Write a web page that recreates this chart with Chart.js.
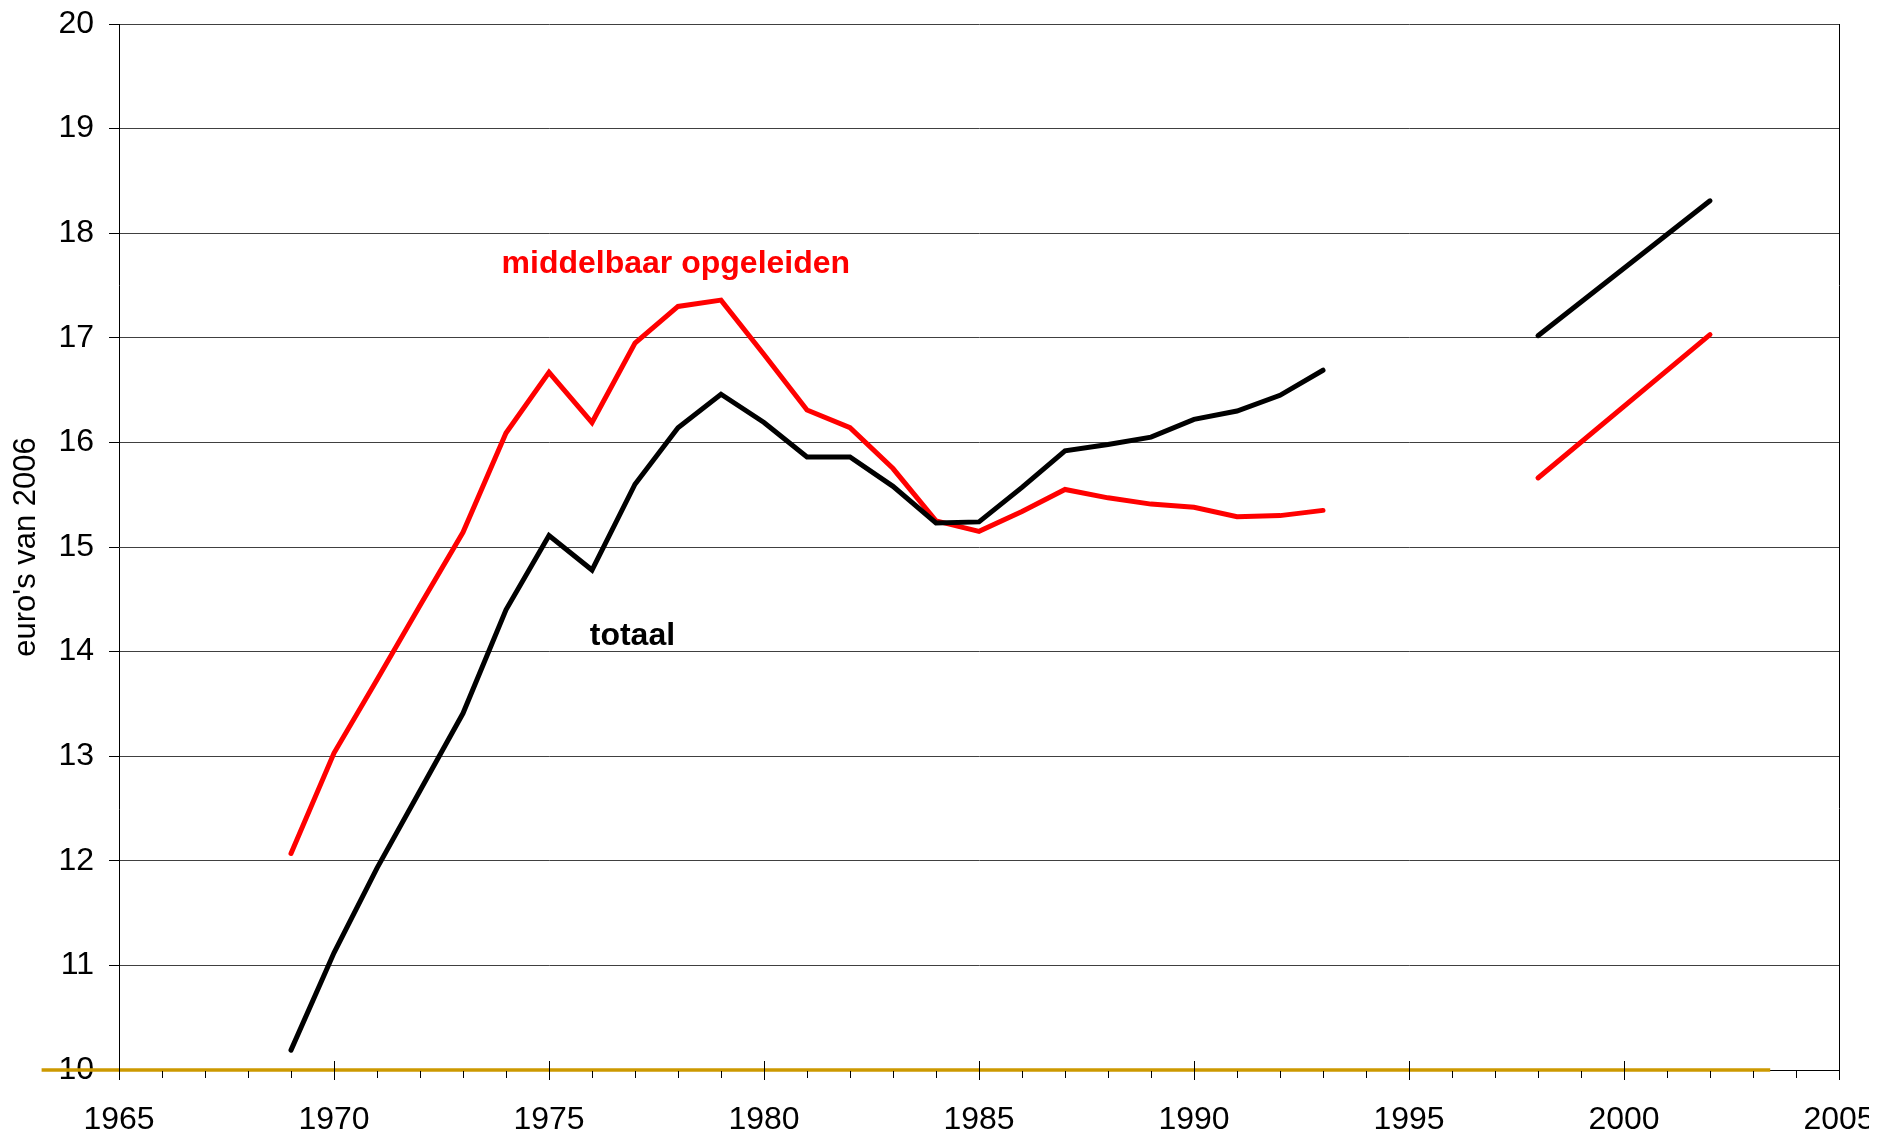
<!DOCTYPE html>
<html>
<head>
<meta charset="utf-8">
<title>euro's van 2006</title>
<script src="https://cdn.jsdelivr.net/npm/chart.js@4.4.0/dist/chart.umd.min.js"></script>
<style>
  html, body { margin: 0; padding: 0; background: #fff; }
  .canva { width: 1869px; height: 1134px; position: relative; }
</style>
</head>
<body>
<div class="canva"><canvas id="grafiek"></canvas></div>
<script>
// jaren, 1995 staat er alleen in om de lijn te onderbreken
const jaren = [1969, 1970, 1971, 1972, 1973, 1974, 1975, 1976, 1977, 1978, 1979, 1980,
  1981, 1982, 1983, 1984, 1985, 1986, 1987, 1988, 1989, 1990, 1991, 1992, 1993,
  1995, 1998, 2002];
const totaal = [10.19, 11.12, 11.93, 12.67, 13.41, 14.40, 15.11, 14.78, 15.60, 16.14, 16.46, 16.19,
  15.86, 15.86, 15.58, 15.23, 15.24, 15.57, 15.92, 15.98, 16.05, 16.22, 16.30, 16.45, 16.69,
  null, 17.02, 18.31];
const middelbaar = [12.07, 13.03, 13.73, 14.44, 15.14, 16.09, 16.67, 16.19, 16.95, 17.30, 17.36, 16.84,
  16.31, 16.14, 15.75, 15.25, 15.15, 15.34, 15.55, 15.47, 15.41, 15.38, 15.29, 15.30, 15.35,
  null, 15.66, 17.03];
// gele basislijn onderaan
const basisJaren = [1963.2, 2003.4];
const basisWaarden = [10, 10];

const yTicks = [10, 11, 12, 13, 14, 15, 16, 17, 18, 19, 20];
const xTicks = [1965, 1970, 1975, 1980, 1985, 1990, 1995, 2000, 2005];

const labels = [
  { tekst: 'middelbaar opgeleiden', jaar: 1977.95, waarde: 17.62, kleur: '#FF0000' },
  { tekst: 'totaal', jaar: 1976.94, waarde: 14.06, kleur: '#000000' },
];

const FONT = "'Liberation Sans', Arial, Helvetica, sans-serif";

const toPoints = (xs, ys) => xs.map((x, i) => ({ x: x, y: ys[i] }));

// kleine en grote streepjes op de x-as, tekst in de grafiek
const extraPlugin = {
  id: 'extra',
  afterDatasetsDraw(chart) {
    const ctx = chart.ctx;
    const xs = chart.scales.x;
    const ys = chart.scales.y;
    const area = chart.chartArea;
    const asY = Math.round(ys.getPixelForValue(10));
    ctx.save();
    ctx.strokeStyle = '#000';
    ctx.lineWidth = 1;
    // rechter rand
    ctx.beginPath();
    ctx.moveTo(Math.round(area.right) + 0.5, area.top);
    ctx.lineTo(Math.round(area.right) + 0.5, area.bottom);
    ctx.stroke();
    for (let jaar = 1965; jaar <= 2005; jaar++) {
      const px = Math.round(xs.getPixelForValue(jaar)) + 0.5;
      ctx.beginPath();
      if (jaar % 5 === 0) {
        ctx.moveTo(px, asY - 9);
        ctx.lineTo(px, asY + 10);
      } else {
        ctx.moveTo(px, asY + 1);
        ctx.lineTo(px, asY + 8);
      }
      ctx.stroke();
    }
    ctx.font = 'bold 32px ' + FONT;
    ctx.textAlign = 'center';
    ctx.textBaseline = 'alphabetic';
    labels.forEach((l) => {
      ctx.fillStyle = l.kleur;
      ctx.fillText(l.tekst, xs.getPixelForValue(l.jaar), ys.getPixelForValue(l.waarde));
    });
    ctx.restore();
  }
};

new Chart(document.getElementById('grafiek'), {
  type: 'line',
  data: {
    datasets: [
      {
        label: 'basis',
        data: toPoints(basisJaren, basisWaarden),
        borderColor: '#CC9900',
        borderWidth: 3.5,
        pointRadius: 0,
        clip: false,
        order: 3
      },
      {
        label: 'middelbaar opgeleiden',
        data: toPoints(jaren, middelbaar),
        borderColor: '#FF0000',
        borderWidth: 5,
        borderCapStyle: 'round',
        borderJoinStyle: 'miter',
        pointRadius: 0,
        spanGaps: false,
        tension: 0,
        order: 2
      },
      {
        label: 'totaal',
        data: toPoints(jaren, totaal),
        borderColor: '#000000',
        borderWidth: 5,
        borderCapStyle: 'round',
        borderJoinStyle: 'miter',
        pointRadius: 0,
        spanGaps: false,
        tension: 0,
        order: 1
      }
    ]
  },
  options: {
    responsive: true,
    maintainAspectRatio: false,
    animation: false,
    layout: { padding: { top: 24, right: 30, left: 0, bottom: 0 } },
    plugins: {
      legend: { display: false },
      tooltip: { enabled: false }
    },
    scales: {
      x: {
        type: 'linear',
        min: 1965,
        max: 2005,
        afterBuildTicks: (s) => { s.ticks = xTicks.map((v) => ({ value: v })); },
        afterFit: (s) => { s.height = 64; s.paddingLeft = 0; s.paddingRight = 0; },
        grid: { drawOnChartArea: false, drawTicks: false },
        border: { color: '#000', width: 1 },
        ticks: {
          color: '#000',
          padding: 31,
          maxRotation: 0,
          autoSkip: false,
          font: { family: FONT, size: 32 },
          callback: (v) => String(v)
        }
      },
      y: {
        min: 10,
        max: 20,
        afterBuildTicks: (s) => { s.ticks = yTicks.map((v) => ({ value: v })); },
        afterFit: (s) => { s.width = 119; s.paddingTop = 0; s.paddingBottom = 0; },
        grid: { color: '#404040', lineWidth: 1, tickLength: 10, tickColor: '#000' },
        border: { color: '#000', width: 1 },
        ticks: {
          color: '#000',
          padding: 15,
          font: { family: FONT, size: 32 }
        },
        title: {
          display: true,
          text: "euro's van 2006",
          color: '#000',
          font: { family: FONT, size: 31 },
          padding: { top: 8, bottom: 0 }
        }
      }
    }
  },
  plugins: [extraPlugin]
});
</script>
</body>
</html>
